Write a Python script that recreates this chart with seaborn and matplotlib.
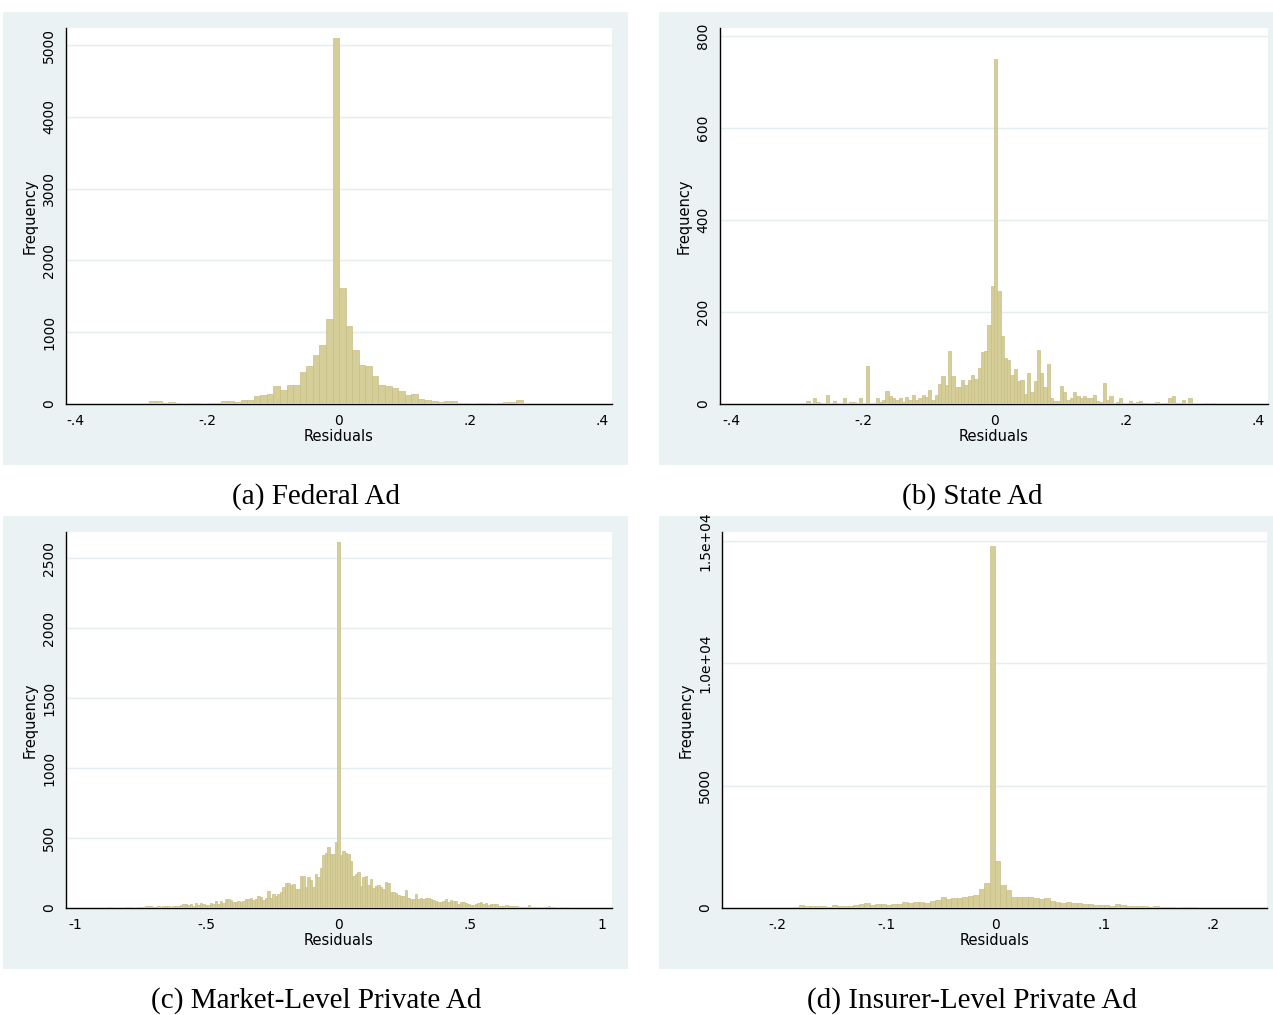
import numpy as np
import pandas as pd
import matplotlib
matplotlib.use("Agg")
import matplotlib.pyplot as plt
from matplotlib.patches import Rectangle
import seaborn as sns

# ---- data (bin start, bin width, counts per bin) ----
fed_start, fed_width = -0.2885, 0.00997
fed_counts = [47, 47, 14, 33, 19, 5, 19, 19, 5, 19,
              19, 47, 47, 33, 61, 61, 113, 131, 146, 244,
              197, 258, 258, 441, 530, 681, 822, 1178, 5100, 1620,
              1089, 751, 540, 530, 394, 258, 244, 216, 188, 131,
              146, 70, 61, 47, 33, 47, 47, 19, 19, 5,
              19, 19, 5, 19, 33, 33, 61]

state_start, state_width = -0.286, 0.005
state_counts = [7, 0, 12, 5, 0, 0, 19, 0, 6, 1,
                0, 12, 0, 5, 4, 0, 12, 0, 82, 0,
                0, 12, 5, 9, 29, 18, 13, 9, 14, 5,
                16, 9, 20, 9, 12, 20, 16, 31, 9, 20,
                44, 61, 42, 116, 61, 36, 36, 53, 42, 53,
                64, 55, 79, 112, 116, 172, 257, 750, 246, 148,
                101, 96, 64, 77, 49, 53, 22, 68, 27, 49,
                118, 68, 36, 88, 12, 6, 7, 40, 27, 9,
                12, 25, 18, 14, 18, 14, 14, 20, 7, 5,
                46, 9, 18, 0, 5, 14, 0, 0, 7, 3,
                5, 6, 3, 3, 1, 0, 5, 0, 1, 3,
                12, 18, 3, 3, 9, 0, 12, 1, 1, 1,
                1, 2, 0, 3]

market_start, market_width = -0.8785, 0.0095
market_counts = [7, 7, 0, 2, 2, 3, 2, 7, 7, 7,
                 3, 2, 5, 7, 5, 12, 15, 12, 7, 5,
                 12, 10, 15, 12, 12, 10, 15, 15, 17, 22,
                 27, 32, 24, 32, 17, 36, 22, 36, 27, 22,
                 22, 36, 32, 51, 27, 51, 39, 66, 61, 56,
                 41, 41, 51, 46, 51, 61, 66, 75, 56, 66,
                 85, 80, 58, 75, 124, 75, 100, 87, 100, 114,
                 148, 182, 177, 165, 172, 133, 138, 226, 226, 153,
                 221, 197, 153, 245, 221, 289, 376, 390, 434, 386,
                 386, 473,
                 2614,
                 379, 408, 391, 386, 335, 226, 240, 255, 160, 221,
                 226, 165, 209, 143, 160, 167, 150, 138, 189, 180,
                 112, 114, 104, 95, 85, 83, 131, 68, 66, 63,
                 100, 63, 68, 65, 75, 68, 61, 56, 49, 44,
                 44, 50, 61, 46, 56, 53, 51, 27, 46, 41,
                 39, 27, 25, 22, 32, 34, 41, 27, 34, 24,
                 27, 29, 29, 17, 12, 12, 19, 12, 15, 12,
                 17, 10, 7, 7, 10, 22, 7, 5, 5, 5,
                 3, 5, 5, 15, 5, 5, 3, 1, 5, 3,
                 5, 3, 1]

insurer_start, insurer_width = -0.24, 0.005
insurer_counts = [10, 14, 10, 14, 10, 14, 14, 10, 14, 20,
                  14, 27, 109, 68, 68, 68, 68, 27, 109, 68,
                  68, 95, 109, 150, 190, 122, 150, 150, 136, 150,
                  163, 231, 204, 231, 231, 218, 272, 313, 435, 354,
                  394, 394, 449, 503, 530, 789, 1006, 14800, 1920, 925,
                  748, 449, 435, 435, 435, 408, 354, 422, 272, 258,
                  218, 258, 218, 218, 177, 163, 136, 136, 136, 95,
                  150, 109, 95, 95, 68, 68, 41, 95, 41, 41,
                  27, 14, 54, 27, 27, 10, 7, 10, 5, 7,
                  5, 7, 5, 3, 5, 3]

captions = ["(a) Federal Ad", "(b) State Ad",
            "(c) Market-Level Private Ad", "(d) Insurer-Level Private Ad"]

fed_xticks, fed_xlabels = [-0.4, -0.2, 0, 0.2, 0.4], ["-.4", "-.2", "0", ".2", ".4"]
fed_yticks = [0, 1000, 2000, 3000, 4000, 5000]
state_yticks = [0, 200, 400, 600, 800]
market_xticks, market_xlabels = [-1, -0.5, 0, 0.5, 1], ["-1", "-.5", "0", ".5", "1"]
market_yticks = [0, 500, 1000, 1500, 2000, 2500]
insurer_xticks = [-0.2, -0.1, 0, 0.1, 0.2]
insurer_xlabels = ["-.2", "-.1", "0", ".1", ".2"]
insurer_yticks = [0, 5000, 10000, 15000]
insurer_ylabels = ["0", "5000", "1.0e+04", "1.5e+04"]

BG = "#EAF2F3"
BAR = "#D6CE98"
EDGE = "#C8BE86"
GRID = "#E4EDEF"

sns.set_theme(style="white")
plt.rcParams["font.family"] = ["DejaVu Sans"]

W, H = 1273, 1015
fig = plt.figure(figsize=(W / 100, H / 100), dpi=100)
fig.patch.set_facecolor("white")


def px_rect(x0, y0, x1, y1):
    return [x0 / W, 1 - y1 / H, (x1 - x0) / W, (y1 - y0) / H]


def panel(bg, box, start, width, counts, xlim, ylim, xticks, xlabels,
          yticks, ylabels, caption, cap_xy):
    b = px_rect(*bg)
    fig.patches.append(Rectangle((b[0], b[1]), b[2], b[3], transform=fig.transFigure,
                                 facecolor=BG, edgecolor="none", zorder=-5))
    ax = fig.add_axes(px_rect(*box))
    ax.set_facecolor("white")
    edges = (start + width * np.arange(len(counts) + 1)).tolist()
    df = pd.DataFrame({"resid": [e + width / 2 for e in edges[:-1]], "n": counts})
    sns.histplot(data=df, x="resid", weights="n", bins=edges, ax=ax,
                 color=BAR, edgecolor=EDGE, linewidth=0.5, alpha=1, zorder=3)
    ax.set_xlim(*xlim)
    ax.set_ylim(*ylim)
    for t in yticks[1:]:
        ax.axhline(t, color=GRID, lw=1.0, zorder=1)
    ax.set_xticks(xticks)
    ax.set_xticklabels(xlabels)
    ax.set_yticks(yticks)
    ax.set_yticklabels(ylabels, rotation=90, va="center")
    ax.tick_params(axis="both", direction="out", length=5, width=0.9,
                   color="black", labelsize=10, pad=2, labelcolor="black")
    for s in ["top", "right"]:
        ax.spines[s].set_visible(False)
    for s in ["left", "bottom"]:
        ax.spines[s].set_color("black")
        ax.spines[s].set_linewidth(1.0)
    ax.set_xlabel("Residuals", fontsize=10.5, labelpad=1, color="black")
    ax.set_ylabel("Frequency", fontsize=10.5, labelpad=3, color="black")
    ax.grid(False)
    fig.text(cap_xy[0] / W, 1 - cap_xy[1] / H, caption, ha="center", va="center",
             fontsize=21, color="black", family=["Liberation Serif", "DejaVu Serif"])
    return ax


panel((3, 12, 628, 465), (66, 28, 612, 404), fed_start, fed_width, fed_counts,
      (-0.4143, 0.4152), (0, 5237), fed_xticks, fed_xlabels,
      fed_yticks, [str(t) for t in fed_yticks], captions[0], (316, 497))

panel((659, 12, 1273, 465), (720, 28, 1268, 404), state_start, state_width, state_counts,
      (-0.4173, 0.4152), (0, 817), fed_xticks, fed_xlabels,
      state_yticks, [str(t) for t in state_yticks], captions[1], (972, 497))

panel((3, 516, 628, 969), (66, 532, 612, 908), market_start, market_width, market_counts,
      (-1.034, 1.038), (0, 2686), market_xticks, market_xlabels,
      market_yticks, [str(t) for t in market_yticks], captions[2], (316, 1001))

panel((659, 516, 1273, 969), (722, 532, 1267, 908), insurer_start, insurer_width,
      insurer_counts, (-0.2505, 0.2495), (0, 15370), insurer_xticks, insurer_xlabels,
      insurer_yticks, insurer_ylabels, captions[3], (972, 1001))

fig.savefig("out.png", dpi=100)
